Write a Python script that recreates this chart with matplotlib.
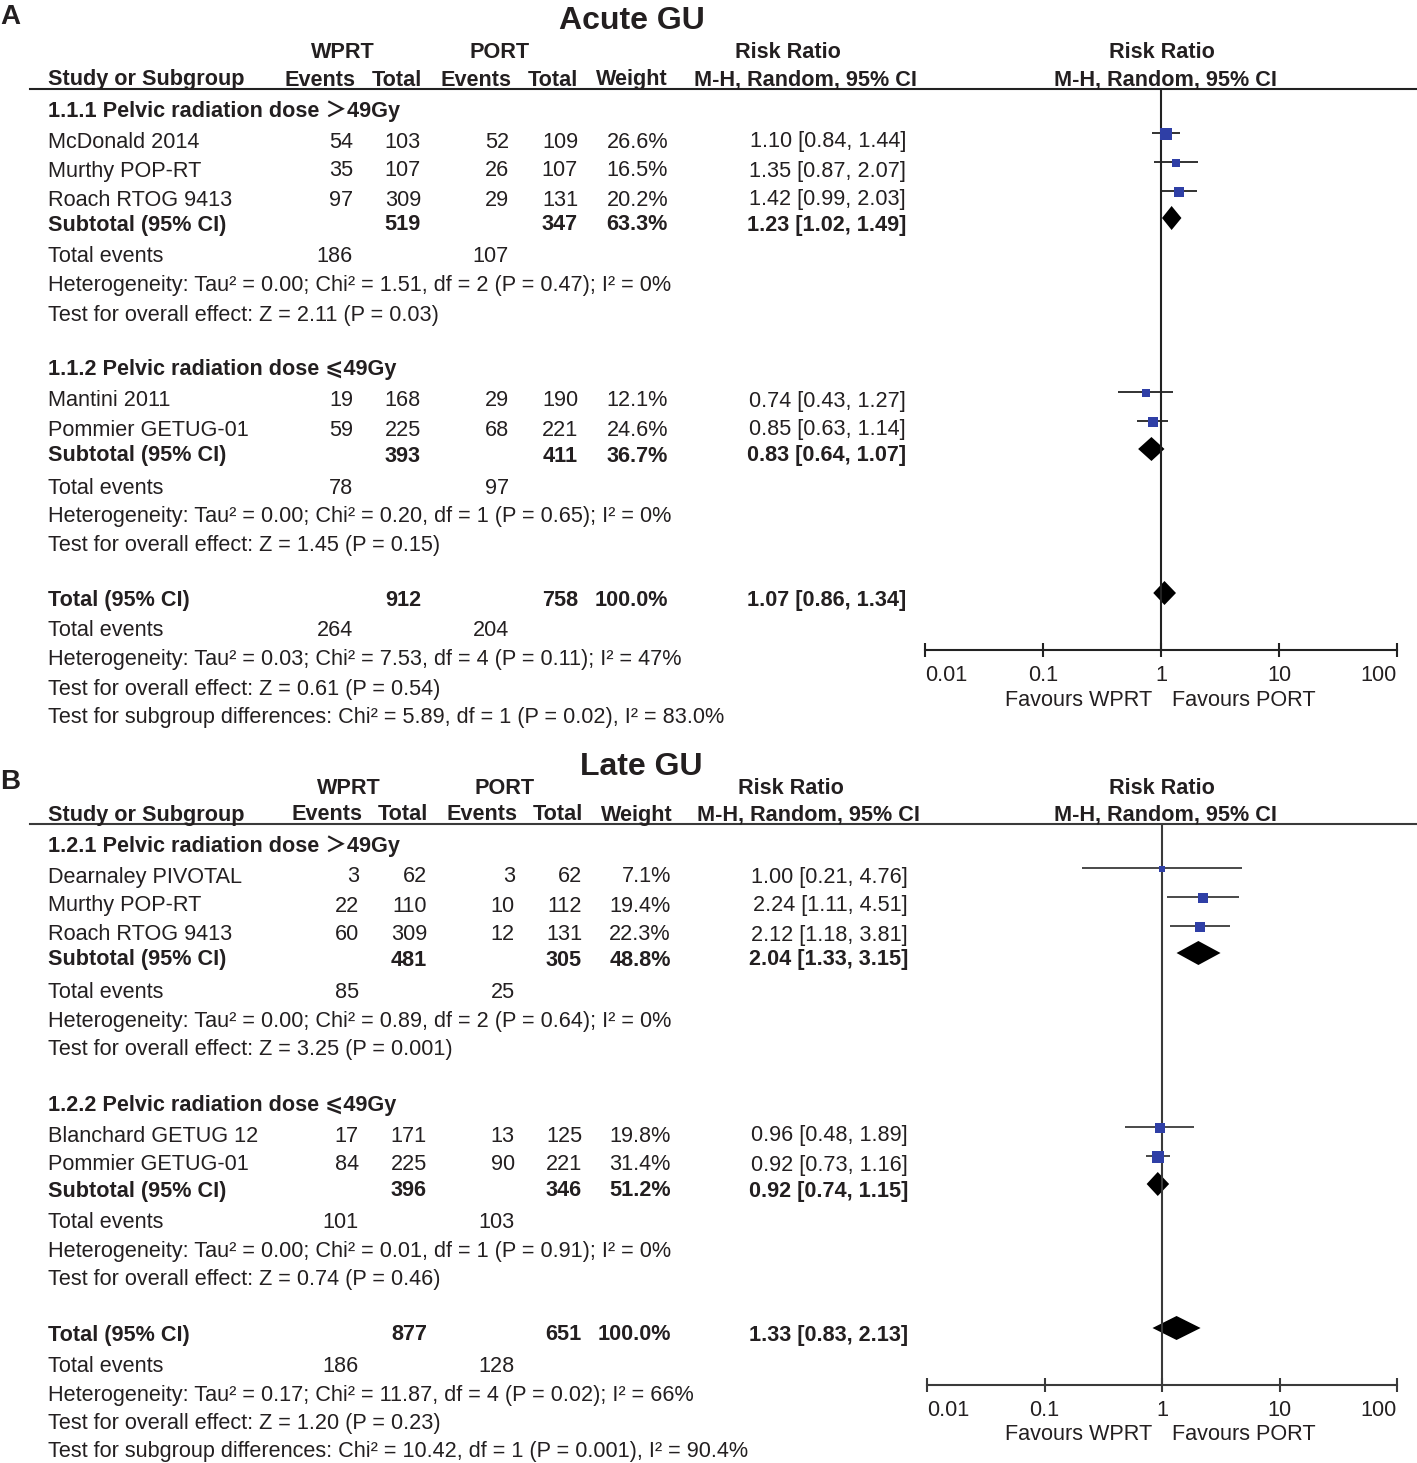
import matplotlib
matplotlib.use('Agg')
import matplotlib.pyplot as plt
from matplotlib.lines import Line2D
import numpy as np

W, H = 1417, 1463
FAM = ['Liberation Sans', 'DejaVu Sans', 'Noto Sans CJK SC']
TXT = '#231f20'
BLUE = '#2f3fa6'
FS = 15.6
TY = 2  # text baseline correction (px)

# ---------------- Panel A data (Acute GU) ----------------
a_title = 'Acute GU'
a_groups = ['1.1.1 Pelvic radiation dose \uff1e49Gy', '1.1.2 Pelvic radiation dose \u2a7d49Gy']
a_studies = [['McDonald 2014', 'Murthy POP-RT', 'Roach RTOG 9413'], ['Mantini 2011', 'Pommier GETUG-01']]
a_ev_w = [[54, 35, 97], [19, 59]]
a_n_w = [[103, 107, 309], [168, 225]]
a_ev_p = [[52, 26, 29], [29, 68]]
a_n_p = [[109, 107, 131], [190, 221]]
a_weight = [[26.6, 16.5, 20.2], [12.1, 24.6]]
a_rr = [[1.10, 1.35, 1.42], [0.74, 0.85]]
a_lo = [[0.84, 0.87, 0.99], [0.43, 0.63]]
a_hi = [[1.44, 2.07, 2.03], [1.27, 1.14]]
a_sub_n_w = [519, 393]
a_sub_n_p = [347, 411]
a_sub_weight = [63.3, 36.7]
a_sub_rr = [1.23, 0.83]
a_sub_lo = [1.02, 0.64]
a_sub_hi = [1.49, 1.07]
a_sub_ev_w = [186, 78]
a_sub_ev_p = [107, 97]
a_sub_het = [('0.00', '1.51', '2', '0.47', '0%'), ('0.00', '0.20', '1', '0.65', '0%')]
a_sub_z = [('2.11', '0.03'), ('1.45', '0.15')]
a_tot_n = [912, 758]
a_tot_ci = [1.07, 0.86, 1.34]
a_tot_ev = [264, 204]
a_tot_het = ('0.03', '7.53', '4', '0.11', '47%')
a_tot_z = ('0.61', '0.54')
a_subgroup_diff = ('5.89', '1', '0.02', '83.0%')

# ---------------- Panel B data (Late GU) ----------------
b_title = 'Late GU'
b_groups = ['1.2.1 Pelvic radiation dose \uff1e49Gy', '1.2.2 Pelvic radiation dose \u2a7d49Gy']
b_studies = [['Dearnaley PIVOTAL', 'Murthy POP-RT', 'Roach RTOG 9413'], ['Blanchard GETUG 12', 'Pommier GETUG-01']]
b_ev_w = [[3, 22, 60], [17, 84]]
b_n_w = [[62, 110, 309], [171, 225]]
b_ev_p = [[3, 10, 12], [13, 90]]
b_n_p = [[62, 112, 131], [125, 221]]
b_weight = [[7.1, 19.4, 22.3], [19.8, 31.4]]
b_rr = [[1.00, 2.24, 2.12], [0.96, 0.92]]
b_lo = [[0.21, 1.11, 1.18], [0.48, 0.73]]
b_hi = [[4.76, 4.51, 3.81], [1.89, 1.16]]
b_sub_n_w = [481, 396]
b_sub_n_p = [305, 346]
b_sub_weight = [48.8, 51.2]
b_sub_rr = [2.04, 0.92]
b_sub_lo = [1.33, 0.74]
b_sub_hi = [3.15, 1.15]
b_sub_ev_w = [85, 101]
b_sub_ev_p = [25, 103]
b_sub_het = [('0.00', '0.89', '2', '0.64', '0%'), ('0.00', '0.01', '1', '0.91', '0%')]
b_sub_z = [('3.25', '0.001'), ('0.74', '0.46')]
b_tot_n = [877, 651]
b_tot_ci = [1.33, 0.83, 2.13]
b_tot_ev = [186, 128]
b_tot_het = ('0.17', '11.87', '4', '0.02', '66%')
b_tot_z = ('1.20', '0.23')
b_subgroup_diff = ('10.42', '1', '0.001', '90.4%')

tick_vals = [0.01, 0.1, 1, 10, 100]
tick_labels = ['0.01', '0.1', '1', '10', '100']

fig = plt.figure(figsize=(W / 100, H / 100), dpi=100)


def T(x, y, s, ha='left', bold=False, size=FS):
    fig.text(x / W, 1 - (y + TY) / H, s, ha=ha, va='center', fontsize=size,
             fontweight='bold' if bold else 'normal', color=TXT, family=FAM)


def ci_str(r, l, h):
    return f'{r:.2f} [{l:.2f}, {h:.2f}]'


def panel(d, off, cols, letter, letter_y, title_y, line_col):
    # layout rows (pixel y within panel)
    R = dict(hdr1=51, hdr2=78, rule=89, g=[109, 368],
             study=[[140, 169, 198], [399, 428]], sub=[223, 454], ev=[255, 486],
             het=[284, 515], z=[313, 543], total=598, tev=629, thet=658, tz=687,
             sgd=715, axis=650, fav=698)
    y = lambda v: v + off
    T(0, letter_y, letter, bold=True, size=20)
    T(cols['title'], title_y, d['title'], ha='center', bold=True, size=23)
    T(cols['h_wprt'], y(R['hdr1']), 'WPRT', ha='center', bold=True)
    T(cols['h_port'], y(R['hdr1']), 'PORT', ha='center', bold=True)
    T(cols['h_rr'], y(R['hdr1']), 'Risk Ratio', ha='center', bold=True)
    T(1162, y(R['hdr1']), 'Risk Ratio', ha='center', bold=True)
    T(48, y(R['hdr2']), 'Study or Subgroup', bold=True)
    T(cols['h_ev_w'], y(R['hdr2']), 'Events', ha='center', bold=True)
    T(cols['h_n_w'], y(R['hdr2']), 'Total', ha='center', bold=True)
    T(cols['h_ev_p'], y(R['hdr2']), 'Events', ha='center', bold=True)
    T(cols['h_n_p'], y(R['hdr2']), 'Total', ha='center', bold=True)
    T(cols['h_wt'], y(R['hdr2']), 'Weight', ha='center', bold=True)
    T(cols['h_mh'], y(R['hdr2']), 'M-H, Random, 95% CI', ha='center', bold=True)
    T(1165, y(R['hdr2']), 'M-H, Random, 95% CI', ha='center', bold=True)
    fig.add_artist(Line2D([30 / W, 1.0], [1 - y(R['rule']) / H] * 2,
                          transform=fig.transFigure, color=line_col, lw=1.5))

    # forest axes: data y == pixel row
    top = y(R['rule'])
    bot = y(R['axis'])
    ax = fig.add_axes([cols['f0'] / W, 1 - bot / H, (cols['f1'] - cols['f0']) / W, (bot - top) / H])
    ax.set_xscale('log')
    ax.set_xlim(tick_vals[0], tick_vals[-1])
    ax.set_ylim(bot, top)
    ax.set_facecolor('none')
    for s in ['left', 'right', 'top']:
        ax.spines[s].set_visible(False)
    ax.spines['bottom'].set_linewidth(1.5)
    ax.spines['bottom'].set_color(line_col)
    ax.set_yticks([])
    ax.set_xticks(tick_vals)
    ax.set_xticklabels(tick_labels)
    ax.minorticks_off()
    ax.tick_params(axis='x', direction='inout', length=10, width=1.5, color=line_col,
                   pad=6, labelsize=FS, labelcolor=TXT)
    for lab in ax.get_xticklabels():
        lab.set_family(FAM)
    labs = ax.get_xticklabels()
    labs[0].set_horizontalalignment('left')
    labs[-1].set_horizontalalignment('right')
    ax.axvline(1, color=line_col, lw=1.5)

    for g in range(2):
        T(48, y(R['g'][g]), d['groups'][g], bold=True)
        for i, name in enumerate(d['studies'][g]):
            ry = y(R['study'][g][i])
            T(48, ry, name)
            T(cols['ev_w'], ry, str(d['ev_w'][g][i]), ha='right')
            T(cols['n_w'], ry, str(d['n_w'][g][i]), ha='right')
            T(cols['ev_p'], ry, str(d['ev_p'][g][i]), ha='right')
            T(cols['n_p'], ry, str(d['n_p'][g][i]), ha='right')
            T(cols['wt'], ry, f"{d['weight'][g][i]:.1f}%", ha='right')
            T(cols['ci'], ry, ci_str(d['rr'][g][i], d['lo'][g][i], d['hi'][g][i]), ha='right')
            my = ry - 7
            ax.plot([d['lo'][g][i], d['hi'][g][i]], [my, my], color=line_col, lw=1.3, solid_capstyle='butt')
            side = 2.2 * np.sqrt(d['weight'][g][i])
            ax.plot([d['rr'][g][i]], [my + 1], marker='s', ms=side * 0.72, mfc=BLUE, mec=BLUE, mew=0, ls='none')
        ry = y(R['sub'][g])
        T(48, ry, 'Subtotal (95% CI)', bold=True)
        T(cols['n_w'], ry, str(d['sub_n_w'][g]), ha='right', bold=True)
        T(cols['n_p'], ry, str(d['sub_n_p'][g]), ha='right', bold=True)
        T(cols['wt'], ry, f"{d['sub_weight'][g]:.1f}%", ha='right', bold=True)
        T(cols['ci'], ry, ci_str(d['sub_rr'][g], d['sub_lo'][g], d['sub_hi'][g]), ha='right', bold=True)
        dy = ry - 5
        r, l, h = d['sub_rr'][g], d['sub_lo'][g], d['sub_hi'][g]
        ax.fill([l, r, h, r], [dy, dy - 12, dy, dy + 12], color='black', lw=0)
        ry = y(R['ev'][g])
        T(48, ry, 'Total events')
        T(cols['ev_w'], ry, str(d['sub_ev_w'][g]), ha='right')
        T(cols['ev_p'], ry, str(d['sub_ev_p'][g]), ha='right')
        tau, chi, df, p, i2 = d['sub_het'][g]
        T(48, y(R['het'][g]), f'Heterogeneity: Tau\u00b2 = {tau}; Chi\u00b2 = {chi}, df = {df} (P = {p}); I\u00b2 = {i2}')
        z, p = d['sub_z'][g]
        T(48, y(R['z'][g]), f'Test for overall effect: Z = {z} (P = {p})')

    ry = y(R['total'])
    T(48, ry, 'Total (95% CI)', bold=True)
    T(cols['n_w'], ry, str(d['tot_n'][0]), ha='right', bold=True)
    T(cols['n_p'], ry, str(d['tot_n'][1]), ha='right', bold=True)
    T(cols['wt'], ry, '100.0%', ha='right', bold=True)
    r, l, h = d['tot_ci']
    T(cols['ci'], ry, ci_str(r, l, h), ha='right', bold=True)
    dy = ry - 5
    ax.fill([l, r, h, r], [dy, dy - 12, dy, dy + 12], color='black', lw=0)
    ry = y(R['tev'])
    T(48, ry, 'Total events')
    T(cols['ev_w'], ry, str(d['tot_ev'][0]), ha='right')
    T(cols['ev_p'], ry, str(d['tot_ev'][1]), ha='right')
    tau, chi, df, p, i2 = d['tot_het']
    T(48, y(R['thet']), f'Heterogeneity: Tau\u00b2 = {tau}; Chi\u00b2 = {chi}, df = {df} (P = {p}); I\u00b2 = {i2}')
    z, p = d['tot_z']
    T(48, y(R['tz']), f'Test for overall effect: Z = {z} (P = {p})')
    chi, df, p, i2 = d['sgd']
    T(48, y(R['sgd']), f'Test for subgroup differences: Chi\u00b2 = {chi}, df = {df} (P = {p}), I\u00b2 = {i2}')
    T(1152, y(R['fav']), 'Favours WPRT', ha='right')
    T(1172, y(R['fav']), 'Favours PORT', ha='left')


data_a = dict(title=a_title, groups=a_groups, studies=a_studies, ev_w=a_ev_w, n_w=a_n_w, ev_p=a_ev_p,
              n_p=a_n_p, weight=a_weight, rr=a_rr, lo=a_lo, hi=a_hi, sub_n_w=a_sub_n_w, sub_n_p=a_sub_n_p,
              sub_weight=a_sub_weight, sub_rr=a_sub_rr, sub_lo=a_sub_lo, sub_hi=a_sub_hi,
              sub_ev_w=a_sub_ev_w, sub_ev_p=a_sub_ev_p, sub_het=a_sub_het, sub_z=a_sub_z,
              tot_n=a_tot_n, tot_ci=a_tot_ci, tot_ev=a_tot_ev, tot_het=a_tot_het, tot_z=a_tot_z,
              sgd=a_subgroup_diff)
data_b = dict(title=b_title, groups=b_groups, studies=b_studies, ev_w=b_ev_w, n_w=b_n_w, ev_p=b_ev_p,
              n_p=b_n_p, weight=b_weight, rr=b_rr, lo=b_lo, hi=b_hi, sub_n_w=b_sub_n_w, sub_n_p=b_sub_n_p,
              sub_weight=b_sub_weight, sub_rr=b_sub_rr, sub_lo=b_sub_lo, sub_hi=b_sub_hi,
              sub_ev_w=b_sub_ev_w, sub_ev_p=b_sub_ev_p, sub_het=b_sub_het, sub_z=b_sub_z,
              tot_n=b_tot_n, tot_ci=b_tot_ci, tot_ev=b_tot_ev, tot_het=b_tot_het, tot_z=b_tot_z,
              sgd=b_subgroup_diff)

cols_a = dict(ev_w=353, n_w=421, ev_p=509, n_p=578, wt=668, ci=906, h_wprt=343, h_port=500,
              h_ev_w=320, h_n_w=397, h_ev_p=476, h_n_p=553, h_wt=632, h_rr=788, h_mh=805,
              title=632, f0=925, f1=1397)
cols_b = dict(ev_w=359, n_w=427, ev_p=515, n_p=582, wt=671, ci=908, h_wprt=349, h_port=505,
              h_ev_w=327, h_n_w=403, h_ev_p=482, h_n_p=558, h_wt=637, h_rr=791, h_mh=808,
              title=641, f0=927, f1=1397)

panel(data_a, 0, cols_a, 'A', 15, 19, '#222222')
panel(data_b, 735, cols_b, 'B', 780, 765, '#3a3a3a')

fig.savefig('out.png', dpi=100)
